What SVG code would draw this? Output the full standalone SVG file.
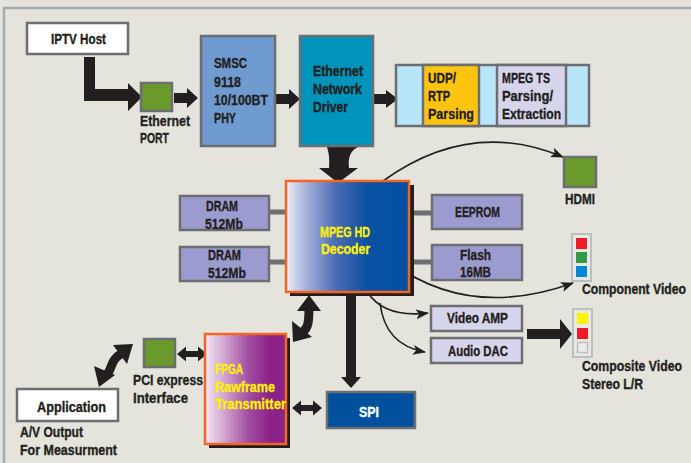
<svg xmlns="http://www.w3.org/2000/svg" width="691" height="463" viewBox="0 0 691 463">
<defs>
<style>
.t{font-family:"Liberation Sans",Arial,sans-serif;font-weight:bold;font-size:15px;fill:#231f20;stroke:#231f20;stroke-width:0.35}
.y{fill:#fff200;stroke:#fff200}
.w{fill:#ffffff;stroke:#ffffff}
.box{stroke:#6d6e71;stroke-width:2.5}
.bar{stroke:#6d6e71;stroke-width:5}
.thin{fill:none;stroke:#231f20;stroke-width:1.6;marker-end:url(#ah)}
.blk{fill:#231f20}
.stem{fill:none;stroke:#231f20;stroke-width:9}
</style>
<linearGradient id="gDec" x1="0" y1="0" x2="1" y2="0">
<stop offset="0" stop-color="#eeeef8"/>
<stop offset="0.12" stop-color="#b8c0e0"/>
<stop offset="0.4" stop-color="#4e6bb6"/>
<stop offset="0.65" stop-color="#0c51a2"/>
<stop offset="1" stop-color="#0050a0"/>
</linearGradient>
<linearGradient id="gFpga" x1="0" y1="0" x2="1" y2="0">
<stop offset="0" stop-color="#f6eaf6"/>
<stop offset="0.2" stop-color="#d6b0d6"/>
<stop offset="0.55" stop-color="#a04aa0"/>
<stop offset="0.8" stop-color="#8c2189"/>
<stop offset="1" stop-color="#8c2189"/>
</linearGradient>
<marker id="ah" markerUnits="userSpaceOnUse" markerWidth="13" markerHeight="10" viewBox="0 0 13 10" refX="12" refY="5" orient="auto">
<path d="M0,0 L13,5 L0,10 L3,5 z" fill="#231f20"/>
</marker>
</defs>
<rect width="691" height="463" fill="#e4e4dc"/>
<path d="M4 463 L4 8 L691 8" fill="none" stroke="#a7a9ac" stroke-width="2.5"/>

<g id="connectors">
<path class="blk" d="M84 57 L95 57 L95 89 L128 89 L128 83 L142 97 L128 111 L128 101 L84 101 Z"/>
<path class="blk" d="M174 93 L187 93 L187 88 L198 98 L187 108 L187 103 L174 103 Z"/>
<path class="blk" d="M276 94 L289 94 L289 89 L300 99 L289 109 L289 104 L276 104 Z"/>
<path class="blk" d="M373 94 L386 94 L386 90 L398 99 L386 108 L386 104 L373 104 Z"/>
<path class="blk" d="M327 147 L358 147 Q347 152 349 168 L358 168 L338 183 L319 168 L329 168 Q330 156 327 147 Z"/>
<line class="bar" x1="269" y1="212" x2="288" y2="212"/>
<line class="bar" x1="269" y1="262" x2="288" y2="262"/>
<line class="bar" x1="412" y1="213" x2="432" y2="213"/>
<line class="bar" x1="412" y1="262" x2="432" y2="262"/>
<path class="thin" d="M383 181 Q470 118 563 157"/>
<path class="thin" d="M392 263 Q470 320 573 283"/>
<path class="thin" d="M368 293 Q385 318 428 313"/>
<path class="thin" d="M380 303 Q385 345 425 352"/>
<rect class="blk" x="346" y="296" width="10" height="82"/>
<path class="blk" d="M341 377 L361 377 L351 388 Z"/>
<path class="blk" d="M527 329 L560 329 L560 319 L572 334 L560 349 L560 339 L527 339 Z"/>
<path class="blk" d="M177 354 L186 346.5 L186 351 L198 351 L198 346.5 L207 354 L198 361.5 L198 357 L186 357 L186 361.5 Z"/>
<path class="blk" d="M292 408 L301 400.5 L301 405 L313 405 L313 400.5 L322 408 L313 415.5 L313 411 L301 411 L301 415.5 Z"/>
<path class="stem" d="M309 308 C309 324 308 330 299 334"/>
<path class="blk" d="M309 295 L297 311 L321 311 Z"/>
<path class="blk" d="M293 342 L292 321 L312 337 Z"/>
<path class="stem" d="M121 354 C109 360 113 372 104 377"/>
<path class="blk" d="M133 344 L113 345 L127 364 Z"/>
<path class="blk" d="M99 387 L94 366 L115 375 Z"/>
</g>

<g id="iptv-host">
<rect class="box" x="27" y="23" width="101" height="31" fill="#ffffff"/>
<text class="t" x="51" y="44" textLength="55" lengthAdjust="spacingAndGlyphs">IPTV Host</text>
</g>
<g id="ethernet-port">
<rect class="box" x="141" y="83" width="31" height="28" fill="#6a9a2c"/>
<text class="t" x="140" y="126" textLength="50" lengthAdjust="spacingAndGlyphs">Ethernet</text>
<text class="t" x="140" y="143" textLength="29" lengthAdjust="spacingAndGlyphs">PORT</text>
</g>
<g id="smsc-phy">
<rect class="box" x="201" y="36" width="74" height="110" fill="#6f9bd1"/>
<text class="t" x="214" y="68" textLength="33" lengthAdjust="spacingAndGlyphs">SMSC</text>
<text class="t" x="214" y="87" textLength="27" lengthAdjust="spacingAndGlyphs">9118</text>
<text class="t" x="214" y="105" textLength="54" lengthAdjust="spacingAndGlyphs">10/100BT</text>
<text class="t" x="214" y="123" textLength="22" lengthAdjust="spacingAndGlyphs">PHY</text>
</g>
<g id="ethernet-driver">
<rect class="box" x="300" y="36" width="73" height="110" fill="#0093bb"/>
<text class="t" x="313" y="76" textLength="50" lengthAdjust="spacingAndGlyphs">Ethernet</text>
<text class="t" x="313" y="94" textLength="49" lengthAdjust="spacingAndGlyphs">Network</text>
<text class="t" x="313" y="112" textLength="35" lengthAdjust="spacingAndGlyphs">Driver</text>
</g>
<g id="parsing-strip">
<rect class="box" x="396" y="65" width="193" height="61" fill="#b9e5f9"/>
<rect class="box" x="423" y="65" width="56" height="61" fill="#ffc40f"/>
<rect class="box" x="497" y="65" width="69" height="61" fill="#d6d5ec"/>
<text class="t" x="428" y="83" textLength="28" lengthAdjust="spacingAndGlyphs">UDP/</text>
<text class="t" x="428" y="101" textLength="22" lengthAdjust="spacingAndGlyphs">RTP</text>
<text class="t" x="428" y="119" textLength="46" lengthAdjust="spacingAndGlyphs">Parsing</text>
<text class="t" x="502" y="83" textLength="48" lengthAdjust="spacingAndGlyphs">MPEG TS</text>
<text class="t" x="502" y="101" textLength="51" lengthAdjust="spacingAndGlyphs">Parsing/</text>
<text class="t" x="502" y="119" textLength="59" lengthAdjust="spacingAndGlyphs">Extraction</text>
</g>
<g id="mpeg-decoder">
<rect x="290" y="185" width="124" height="111" fill="#231f20"/>
<rect x="286" y="181" width="123" height="111" fill="url(#gDec)" stroke="#f26522" stroke-width="2.5"/>
<text class="t y" x="320" y="237" textLength="50" lengthAdjust="spacingAndGlyphs">MPEG HD</text>
<text class="t y" x="321" y="254" textLength="49" lengthAdjust="spacingAndGlyphs">Decoder</text>
</g>
<g id="dram1">
<rect class="box" x="180" y="196" width="89" height="34" fill="#9b9bd0"/>
<text class="t" x="206" y="211" textLength="32" lengthAdjust="spacingAndGlyphs">DRAM</text>
<text class="t" x="205" y="229" textLength="38" lengthAdjust="spacingAndGlyphs">512Mb</text>
</g>
<g id="dram2">
<rect class="box" x="180" y="247" width="89" height="34" fill="#9b9bd0"/>
<text class="t" x="208" y="260" textLength="33" lengthAdjust="spacingAndGlyphs">DRAM</text>
<text class="t" x="208" y="278" textLength="38" lengthAdjust="spacingAndGlyphs">512Mb</text>
</g>
<g id="eeprom">
<rect class="box" x="432" y="195" width="90" height="34" fill="#9b9bd0"/>
<text class="t" x="455" y="217" textLength="45" lengthAdjust="spacingAndGlyphs">EEPROM</text>
</g>
<g id="flash">
<rect class="box" x="432" y="245" width="90" height="35" fill="#9b9bd0"/>
<text class="t" x="460" y="260" textLength="31" lengthAdjust="spacingAndGlyphs">Flash</text>
<text class="t" x="460" y="277" textLength="31" lengthAdjust="spacingAndGlyphs">16MB</text>
</g>
<g id="hdmi">
<rect class="box" x="564" y="157" width="32" height="30" fill="#6a9a2c"/>
<text class="t" x="565" y="204" textLength="30" lengthAdjust="spacingAndGlyphs">HDMI</text>
</g>
<g id="component-video">
<rect x="572" y="234" width="19" height="47" fill="#e8e8e4" stroke="#bcbec0" stroke-width="2"/>
<rect x="576" y="238" width="11" height="11" fill="#ed1c24"/>
<rect x="576" y="252" width="11" height="11" fill="#339a48"/>
<rect x="576" y="266" width="11" height="11" fill="#0089d0"/>
<text class="t" transform="translate(582 294) scale(0.8 1)" x="0" y="0" textLength="130" lengthAdjust="spacingAndGlyphs">Component Video</text>
</g>
<g id="video-amp">
<rect class="box" x="431" y="306" width="91" height="25" fill="#d6d5ec"/>
<text class="t" x="447" y="323" textLength="61" lengthAdjust="spacingAndGlyphs">Video AMP</text>
</g>
<g id="audio-dac">
<rect class="box" x="431" y="338" width="91" height="25" fill="#d6d5ec"/>
<text class="t" x="448" y="356" textLength="60" lengthAdjust="spacingAndGlyphs">Audio DAC</text>
</g>
<g id="composite-video">
<rect x="573" y="309" width="19" height="48" fill="#e8e8e4" stroke="#bcbec0" stroke-width="2"/>
<rect x="577" y="313" width="11" height="11" fill="#fff200"/>
<rect x="577" y="328" width="11" height="11" fill="#ed1c24"/>
<rect x="577.5" y="342.5" width="10" height="10" fill="#ececea" stroke="#bcbec0" stroke-width="1.5"/>
<text class="t" transform="translate(582 371) scale(0.8 1)" x="0" y="0" textLength="125" lengthAdjust="spacingAndGlyphs">Composite Video</text>
<text class="t" x="582" y="389" textLength="61" lengthAdjust="spacingAndGlyphs">Stereo L/R</text>
</g>
<g id="spi">
<rect class="box" x="327" y="392" width="88" height="36" fill="#00509e"/>
<text class="t w" x="359" y="417" textLength="20" lengthAdjust="spacingAndGlyphs">SPI</text>
</g>
<g id="fpga">
<rect x="209" y="338" width="81" height="110" fill="#231f20"/>
<rect x="205" y="334" width="81" height="110" fill="url(#gFpga)" stroke="#f26522" stroke-width="2.5"/>
<text class="t y" x="215" y="374" textLength="28" lengthAdjust="spacingAndGlyphs">FPGA</text>
<text class="t y" x="215" y="392" textLength="60" lengthAdjust="spacingAndGlyphs">Rawframe</text>
<text class="t y" x="215" y="409" textLength="71" lengthAdjust="spacingAndGlyphs">Transmitter</text>
</g>
<g id="pci-express">
<rect class="box" x="144" y="339" width="31" height="28" fill="#6a9a2c"/>
<text class="t" x="133" y="385" textLength="70" lengthAdjust="spacingAndGlyphs">PCI express</text>
<text class="t" x="133" y="403" textLength="55" lengthAdjust="spacingAndGlyphs">Interface</text>
</g>
<g id="application">
<rect class="box" x="17" y="389" width="101" height="32" fill="#ffffff"/>
<text class="t" x="37" y="412" textLength="69" lengthAdjust="spacingAndGlyphs">Application</text>
<text class="t" x="20" y="437" textLength="63" lengthAdjust="spacingAndGlyphs">A/V Output</text>
<text class="t" x="20" y="455" textLength="97" lengthAdjust="spacingAndGlyphs">For Measurment</text>
</g>
</svg>
